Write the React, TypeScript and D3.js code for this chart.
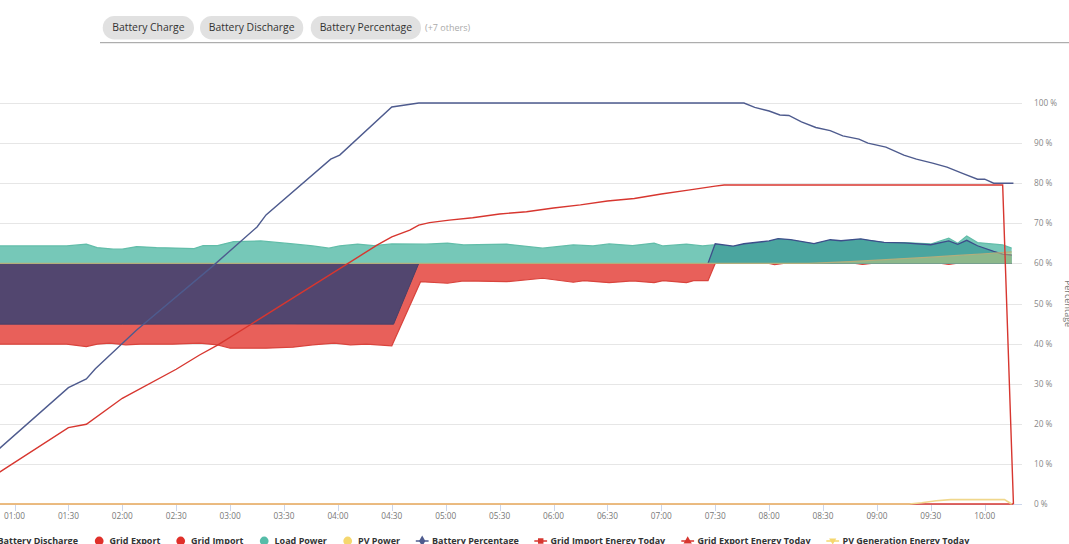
import React from "react";
import * as d3 from "d3";

type P = [string, number];

// ---------- DATA ----------
const chipLabels = ["Battery Charge", "Battery Discharge", "Battery Percentage"];
const moreLabel = "(+7 others)";
const timeTicks = [
  "01:00", "01:30", "02:00", "02:30", "03:00", "03:30", "04:00", "04:30", "05:00", "05:30",
  "06:00", "06:30", "07:00", "07:30", "08:00", "08:30", "09:00", "09:30", "10:00",
];
const percentTicks = [0, 10, 20, 30, 40, 50, 60, 70, 80, 90, 100];
const rightAxisTitle = "Percentage";

// Battery Percentage (%)
const batteryPercentage: P[] = [
  ["00:51", 13.6], ["01:30", 29.0], ["01:40", 31.2], ["01:45", 33.7], ["02:08", 43.4],
  ["02:50", 59.2], ["03:15", 69.1], ["03:20", 72.1], ["03:56", 86.0], ["04:01", 87.0],
  ["04:30", 99.0], ["04:45", 100], ["07:46", 100], ["07:52", 98.9], ["08:00", 98.0],
  ["08:06", 97.0], ["08:11", 96.9], ["08:18", 95.3], ["08:26", 93.9], ["08:34", 93.1],
  ["08:41", 91.8], ["08:50", 91.0], ["08:55", 90.0], ["09:05", 89.0], ["09:15", 87.0],
  ["09:22", 86.0], ["09:31", 85.0], ["09:39", 84.0], ["09:48", 82.4], ["09:56", 81.0],
  ["10:00", 81.0], ["10:05", 80.0], ["10:16", 80.0],
];

// Grid Import Energy Today (kWh)
const gridImportEnergy: P[] = [
  ["00:51", 1.94], ["01:30", 4.76], ["01:40", 4.97], ["02:00", 6.59], ["02:30", 8.40],
  ["02:43", 9.29], ["02:53", 9.91], ["03:11", 11.16], ["04:07", 15.1], ["04:22", 16.15],
  ["04:30", 16.66], ["04:40", 17.08], ["04:45", 17.39], ["04:51", 17.54], ["05:02", 17.70],
  ["05:15", 17.85], ["05:30", 18.08], ["05:45", 18.22], ["06:00", 18.45], ["06:15", 18.65],
  ["06:30", 18.89], ["06:45", 19.05], ["07:00", 19.33], ["07:15", 19.57], ["07:30", 19.82],
  ["07:35", 19.89], ["10:10", 19.89], ["10:16", 0],
];

// Grid Export Energy Today (kWh)
const gridExportEnergy: P[] = [["00:51", 0], ["10:16", 0]];

// PV Generation Energy Today (kWh)
const pvGenerationEnergy: P[] = [
  ["00:51", 0], ["09:18", 0], ["09:25", 0.08], ["09:33", 0.2], ["09:41", 0.27],
  ["10:11", 0.28], ["10:15", 0],
];

// Load Power (kW)
const loadPower: P[] = [
  ["00:51", 0.87], ["01:29", 0.87], ["01:40", 0.96], ["01:46", 0.79], ["01:55", 0.71],
  ["02:00", 0.71], ["02:08", 0.84], ["02:19", 0.79], ["02:40", 0.74], ["02:45", 0.89],
  ["02:53", 0.89], ["03:02", 1.09], ["03:17", 1.12], ["03:35", 0.97], ["03:46", 0.87],
  ["03:55", 0.76], ["04:01", 0.87], ["04:11", 0.96], ["04:20", 0.89], ["04:30", 0.97],
  ["04:49", 0.96], ["05:01", 1.01], ["05:10", 0.92], ["05:34", 0.96], ["05:54", 0.76],
  ["06:11", 0.92], ["06:22", 0.87], ["06:31", 0.97], ["06:44", 0.89], ["06:56", 1.01],
  ["07:01", 0.87], ["07:14", 0.96], ["07:23", 0.87], ["07:29", 0.92], ["07:40", 0.84],
  ["07:46", 0.95], ["08:00", 1.04], ["08:05", 1.15], ["08:12", 1.12], ["08:25", 0.97],
  ["08:34", 1.14], ["08:40", 1.1], ["08:51", 1.2], ["08:56", 1.14], ["09:04", 1.04],
  ["09:15", 1.04], ["09:30", 0.97], ["09:40", 1.26], ["09:45", 1.01], ["09:50", 1.37],
  ["09:56", 1.04], ["10:10", 0.92], ["10:15", 0.76],
];

// Battery Discharge (kW)
const batteryDischarge: P[] = [
  ["00:51", 0], ["07:26", 0], ["07:30", 0.98], ["07:40", 0.86], ["07:46", 0.98],
  ["08:00", 1.12], ["08:05", 1.24], ["08:12", 1.19], ["08:25", 0.99], ["08:34", 1.18],
  ["08:40", 1.13], ["08:51", 1.22], ["08:56", 1.15], ["09:04", 1.05], ["09:15", 1.02],
  ["09:30", 0.93], ["09:40", 1.12], ["09:45", 0.95], ["09:50", 1.15], ["09:56", 0.88],
  ["10:05", 0.6], ["10:10", 0.46], ["10:15", 0.42],
];

// Battery Charge (kW, negative)
const batteryCharge: P[] = [
  ["00:51", -3.03], ["02:00", -3.03], ["03:30", -3.02], ["04:31", -3.03], ["04:45", 0],
  ["10:15", 0],
];

// Grid Import (kW, negative)
const gridImport: P[] = [
  ["00:51", -4.03], ["01:29", -4.03], ["01:40", -4.15], ["01:46", -4.03], ["01:53", -3.98],
  ["02:02", -4.06], ["02:10", -4.03], ["02:28", -4.03], ["02:43", -3.98], ["02:53", -4.06],
  ["03:00", -4.23], ["03:20", -4.23], ["03:35", -4.18], ["03:46", -4.06], ["03:58", -3.98],
  ["04:07", -4.06], ["04:16", -4.03], ["04:22", -4.06], ["04:30", -4.11], ["04:46", -0.91],
  ["05:01", -0.99], ["05:10", -0.87], ["05:34", -0.91], ["05:54", -0.74], ["06:11", -0.94],
  ["06:17", -0.86], ["06:31", -0.96], ["06:44", -0.87], ["06:56", -0.96], ["07:01", -0.86],
  ["07:14", -0.96], ["07:18", -0.86], ["07:26", -0.86], ["07:30", 0], ["08:00", 0],
  ["08:03", -0.06], ["08:08", 0], ["08:48", 0], ["08:52", -0.05], ["08:57", 0],
  ["09:36", 0], ["09:40", -0.05], ["09:44", 0], ["10:15", 0],
];

// Grid Export (kW)
const gridExport: P[] = [["00:51", 0], ["10:15", 0]];

// PV Power (kW)
const pvPower: P[] = [
  ["00:51", 0], ["08:22", 0], ["08:45", 0.09], ["09:00", 0.16], ["09:15", 0.24],
  ["09:30", 0.31], ["09:45", 0.4], ["10:00", 0.48], ["10:15", 0.57],
];

const legendNames = [
  "Battery Discharge", "Grid Export", "Grid Import", "Load Power", "PV Power",
  "Battery Percentage", "Grid Import Energy Today", "Grid Export Energy Today",
  "PV Generation Energy Today",
];

// ---------- STYLE / LAYOUT ----------
const FONT = "'Open Sans', 'Noto Sans', sans-serif";
const legendStyle: { sym: string; color: string }[] = [
  { sym: "circle", color: "#3f4a80" },
  { sym: "circle", color: "#e0302a" },
  { sym: "circle", color: "#e0302a" },
  { sym: "circle", color: "#55bca8" },
  { sym: "circle", color: "#f5d76e" },
  { sym: "diamond", color: "#4e5b8e" },
  { sym: "square", color: "#d7362f" },
  { sym: "triangle", color: "#d7362f" },
  { sym: "triangleDown", color: "#f5d76e" },
];
const legendX = [-2.5, 109.5, 191, 274.5, 358, 432, 550.5, 697.5, 842.5];
const chipBoxes = [
  [102.7, 194], [200, 303.3], [310.7, 421],
];

const parse = d3.timeParse("%H:%M");
const T = (s: string) => parse(s) as Date;

export default function App() {
  const x = d3.scaleTime().domain([T("01:00"), T("10:00")]).range([14.5, 984.7]);
  const yPct = d3.scaleLinear().domain([0, 100]).range([504, 103]);
  const yPow = d3.scaleLinear().domain([-12, 8]).range([504, 103]);
  const yEn = d3.scaleLinear().domain([0, 25]).range([504, 103]);
  const plotLeft = -100;
  const plotRight = 1022;

  const areaPath = (data: P[], ys: d3.ScaleLinear<number, number>) =>
    d3.area<P>().x((d) => x(T(d[0]))).y0(ys(0)).y1((d) => ys(d[1]))(data) || "";
  const linePath = (data: P[], ys: d3.ScaleLinear<number, number>) =>
    d3.line<P>().x((d) => x(T(d[0]))).y((d) => ys(d[1]))(data) || "";

  const symPath = (s: string) => {
    if (s === "diamond") return d3.symbol(d3.symbolDiamond, 34)() || "";
    if (s === "square") return d3.symbol(d3.symbolSquare, 30)() || "";
    if (s === "triangle") return d3.symbol(d3.symbolTriangle, 30)() || "";
    return "M-3.6,-2.6L3.6,-2.6L0,3.6Z";
  };

  return (
    <svg
      width={1069}
      height={544}
      style={{ position: "fixed", left: 0, top: 0, display: "block", background: "#fff" }}
      fontFamily={FONT}
    >
      {/* filter chips */}
      {chipLabels.map((c, i) => {
        const [a, b] = chipBoxes[i];
        return (
          <g key={c}>
            <rect x={a} y={16} width={b - a} height={23.4} rx={11.7} fill="#e1e1e1" />
            <text x={(a + b) / 2} y={31.3} textAnchor="middle" fontSize={10.4} fill="#333">
              {c}
            </text>
          </g>
        );
      })}
      <text x={425} y={31} fontSize={9} fill="#aaa">{moreLabel}</text>
      <line x1={100} x2={1069} y1={42.7} y2={42.7} stroke="#9a9a9a" strokeWidth={1} />

      {/* grid */}
      {percentTicks.map((v) => (
        <line key={v} x1={plotLeft} x2={plotRight} y1={Math.round(yPct(v)) + 0.5} y2={Math.round(yPct(v)) + 0.5}
          stroke="#e6e6e6" strokeWidth={1} />
      ))}

      {/* x axis */}
      <line x1={plotLeft} x2={plotRight} y1={504.5} y2={504.5} stroke="#ccd6eb" />
      {timeTicks.map((t) => {
        const xx = Math.round(x(T(t))) + 0.5;
        return (
          <g key={t}>
            <line x1={xx} x2={xx} y1={504} y2={511} stroke="#ccd6eb" />
            <text x={x(T(t))} y={519} textAnchor="middle" fontSize={8.25} fill="#777">{t}</text>
          </g>
        );
      })}

      {/* right axis labels */}
      {percentTicks.map((v) => (
        <text key={v} x={1034} y={yPct(v) + 3} fontSize={8.25} fill="#888">{`${v} %`}</text>
      ))}
      <text transform={`translate(1065,303.5) rotate(90)`} textAnchor="middle" fontSize={9} fill="#777">
        {rightAxisTitle}
      </text>

      {/* areas */}
      <path d={areaPath(gridExport, yPow)} fill="#e0302a" fillOpacity={0.75} />
      <path d={areaPath(gridImport, yPow)} fill="#e8605a" />
      <path d={linePath(gridImport, yPow)} fill="none" stroke="#d9443d" strokeWidth={1.2} />
      <path d={areaPath(batteryCharge, yPow)} fill="#52466f" />
      <path d={linePath(batteryCharge, yPow)} fill="none" stroke="#4a3f66" strokeWidth={1} />
      <path d={areaPath(loadPower, yPow)} fill="#76c8b8" />
      <path d={linePath(loadPower, yPow)} fill="none" stroke="#62bda9" strokeWidth={1.2} />
      <path d={areaPath(batteryDischarge, yPow)} fill="#4aa59f" />
      <path d={linePath(batteryDischarge.slice(1), yPow)} fill="none" stroke="#3d4e8a" strokeWidth={1.3} />
      <path d={areaPath(pvPower, yPow)} fill="#f3d46e" fillOpacity={0.4} />
      <path d={linePath(pvPower, yPow)} fill="none" stroke="#b3ae7c" strokeWidth={1.2} />

      {/* lines */}
      <path d={linePath(gridExportEnergy, yEn)} fill="none" stroke="#d7362f" strokeWidth={1.3} />
      <path d={linePath(pvGenerationEnergy, yEn)} fill="none" stroke="#f0d78c" strokeWidth={1.6} />
      <path d={linePath(batteryPercentage, yPct)} fill="none" stroke="#4e5b8e" strokeWidth={1.4} />
      <path d={linePath(gridImportEnergy, yEn)} fill="none" stroke="#d7362f" strokeWidth={1.4} />

      {/* legend */}
      {legendNames.map((n, i) => {
        const tx = legendX[i];
        const st = legendStyle[i];
        const cy = 541;
        return (
          <g key={n}>
            {st.sym === "circle" ? (
              <circle cx={tx - 10.3} cy={cy} r={4.4} fill={st.color} />
            ) : (
              <g>
                <line x1={tx - 16.2} x2={tx - 3.4} y1={cy} y2={cy} stroke={st.color} strokeWidth={1.5} />
                <path d={symPath(st.sym)} transform={`translate(${tx - 9.8},${cy})`} fill={st.color} />
              </g>
            )}
            <text x={tx} y={543.5} fontSize={9} fontWeight="bold" fill="#333">{n}</text>
          </g>
        );
      })}
    </svg>
  );
}
